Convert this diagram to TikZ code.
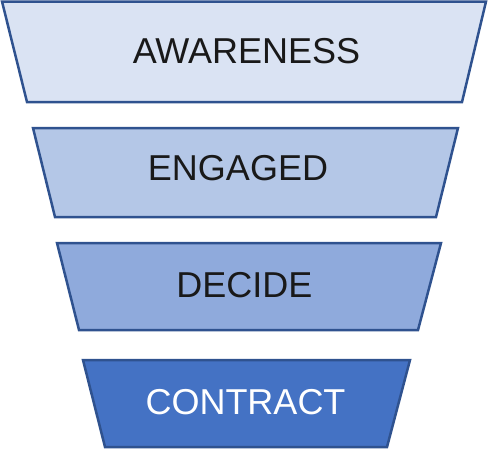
\documentclass[tikz,border=0pt]{standalone}
\usepackage{fontspec}
\setmainfont{Liberation Sans}
\usetikzlibrary{positioning}
\definecolor{funnelEdge}{HTML}{2F528F}
\definecolor{cAware}{HTML}{DAE3F3}
\definecolor{cEngage}{HTML}{B4C7E7}
\definecolor{cDecide}{HTML}{8FAADC}
\definecolor{cContract}{HTML}{4472C4}

\begin{document}
\begin{tikzpicture}[
  x=1pt, y=-1pt,
  tier/.style    ={draw=funnelEdge, line width=2.5pt, line join=miter},
  tierText/.style={font=\fontsize{36}{40}\selectfont, inner sep=0pt, text=black!90}
]
\useasboundingbox (0,0) rectangle (489,450);

% funnel tiers: top-left, top-right, bottom-right, bottom-left
\draw[tier, fill=cAware]    (2,1.5)  -- (486,1.5) -- (462,102) -- (27,102)  -- cycle;
\draw[tier, fill=cEngage]   (33,128) -- (458,128) -- (436,217) -- (55,217)  -- cycle;
\draw[tier, fill=cDecide]   (57,243) -- (441,243) -- (418,330) -- (79,330)  -- cycle;
\draw[tier, fill=cContract] (83,360) -- (410,360) -- (387,447) -- (105,447) -- cycle;

% labels
\node[tierText] (aware)    at (246.5,51)  {AWARENESS};
\node[tierText] (engage)   at (238,168)   {ENGAGED};
\node[tierText] (decide)   at (244.5,285) {DECIDE};
\node[tierText, text=white] (contract) at (245.5,402.5) {CONTRACT};

\end{tikzpicture}
\end{document}
